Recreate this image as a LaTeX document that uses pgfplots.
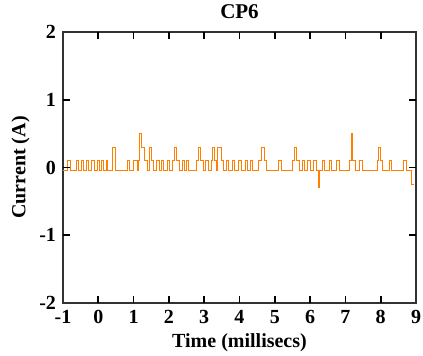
\documentclass[border=0pt]{standalone}
\usepackage{pgfplots}
\pgfplotsset{compat=1.18}
\usepackage{fontspec}
\setmainfont{Liberation Serif}
\definecolor{sigorange}{RGB}{255,127,0}
\definecolor{axgray}{RGB}{50,50,50}
\pgfplotstableread{
t i
-1.00 -0.05
-0.87 0.1
-0.80 -0.05
-0.62 0.1
-0.55 -0.05
-0.48 0.1
-0.42 -0.05
-0.33 0.1
-0.28 -0.05
-0.18 0.1
-0.12 -0.05
-0.03 0.1
0.02 -0.05
0.10 0.1
0.15 -0.05
0.22 0.1
0.27 -0.05
0.40 0.3
0.50 -0.05
0.82 0.1
0.88 -0.05
1.00 0.1
1.10 -0.05
1.15 0.1
1.18 0.5
1.22 0.3
1.30 0.1
1.38 -0.05
1.45 0.3
1.52 0.1
1.57 -0.05
1.65 0.1
1.72 -0.05
1.78 0.1
1.85 -0.05
1.95 0.1
2.02 -0.05
2.10 0.1
2.15 0.3
2.22 0.1
2.30 -0.05
2.38 0.1
2.44 -0.05
2.50 0.1
2.56 -0.05
2.78 0.1
2.84 0.3
2.90 0.1
2.98 -0.05
3.05 0.1
3.12 -0.05
3.20 0.1
3.24 0.3
3.28 0.1
3.34 -0.05
3.38 0.3
3.48 0.1
3.55 -0.05
3.62 0.1
3.68 -0.05
3.80 0.1
3.87 -0.05
3.98 0.1
4.05 -0.05
4.18 0.1
4.24 -0.05
4.30 0.1
4.36 -0.05
4.55 0.1
4.62 0.3
4.70 0.1
4.76 -0.05
5.10 0.1
5.18 -0.05
5.50 0.1
5.57 0.3
5.62 0.1
5.70 -0.05
5.78 0.1
5.85 -0.05
5.92 0.1
6.00 -0.05
6.10 0.1
6.18 -0.05
6.24 -0.3
6.27 -0.05
6.35 0.1
6.42 -0.05
6.55 0.1
6.62 -0.05
6.75 0.1
6.82 -0.05
7.12 0.1
7.16 0.5
7.20 0.1
7.28 -0.05
7.40 0.1
7.48 -0.05
7.90 0.1
7.95 0.3
8.00 0.1
8.06 -0.05
8.25 0.1
8.32 -0.05
8.65 0.1
8.72 -0.05
8.88 -0.25
8.95 -0.25
}\sigdata
\begin{document}
\begin{tikzpicture}
\begin{axis}[
  scale only axis,
  width=176.5pt, height=135.5pt,
  xmin=-1, xmax=9, ymin=-2, ymax=2,
  xtick={-1,0,1,2,3,4,5,6,7,8,9}, ytick={-2,-1,0,1,2},
  tick align=inside,
  major tick length=3.5pt,
  major tick style={draw=black, line width=0.8pt},
  axis line style={draw=axgray, line width=0.6pt},
  /pgf/number format/assume math mode=true,
  ticklabel style={font=\bfseries\fontsize{10}{12}\selectfont},
  title={CP6},
  title style={font=\bfseries\fontsize{10.5}{12}\selectfont, yshift=-3pt},
  xlabel={Time (millisecs)},
  ylabel={Current (A)},
  label style={font=\bfseries\fontsize{10}{12}\selectfont},
  xlabel style={yshift=2pt},
  ylabel style={yshift=-2pt},
  clip=false,
]
\addplot[const plot, sigorange, line width=0.5pt] table[x=t, y=i] {\sigdata};
\draw[black, line width=0.8pt]
  (axis cs:0,-2) -- ++(0pt,3.5pt) (axis cs:1,-2) -- ++(0pt,3.5pt)
  (axis cs:2,-2) -- ++(0pt,3.5pt) (axis cs:3,-2) -- ++(0pt,3.5pt)
  (axis cs:4,-2) -- ++(0pt,3.5pt) (axis cs:5,-2) -- ++(0pt,3.5pt)
  (axis cs:6,-2) -- ++(0pt,3.5pt) (axis cs:7,-2) -- ++(0pt,3.5pt)
  (axis cs:8,-2) -- ++(0pt,3.5pt)
  (axis cs:0,2) -- ++(0pt,-3.5pt) (axis cs:1,2) -- ++(0pt,-3.5pt)
  (axis cs:2,2) -- ++(0pt,-3.5pt) (axis cs:3,2) -- ++(0pt,-3.5pt)
  (axis cs:4,2) -- ++(0pt,-3.5pt) (axis cs:5,2) -- ++(0pt,-3.5pt)
  (axis cs:6,2) -- ++(0pt,-3.5pt) (axis cs:7,2) -- ++(0pt,-3.5pt)
  (axis cs:8,2) -- ++(0pt,-3.5pt)
  (axis cs:-1,-1) -- ++(3.5pt,0pt) (axis cs:-1,0) -- ++(3.5pt,0pt)
  (axis cs:-1,1) -- ++(3.5pt,0pt)
  (axis cs:9,-1) -- ++(-3.5pt,0pt) (axis cs:9,0) -- ++(-3.5pt,0pt)
  (axis cs:9,1) -- ++(-3.5pt,0pt);
\end{axis}
\pgfresetboundingbox
\path[use as bounding box] (current axis.south west) ++(-31.5pt,-26.5pt) rectangle ++(211.5pt,178pt);
\end{tikzpicture}
\end{document}
